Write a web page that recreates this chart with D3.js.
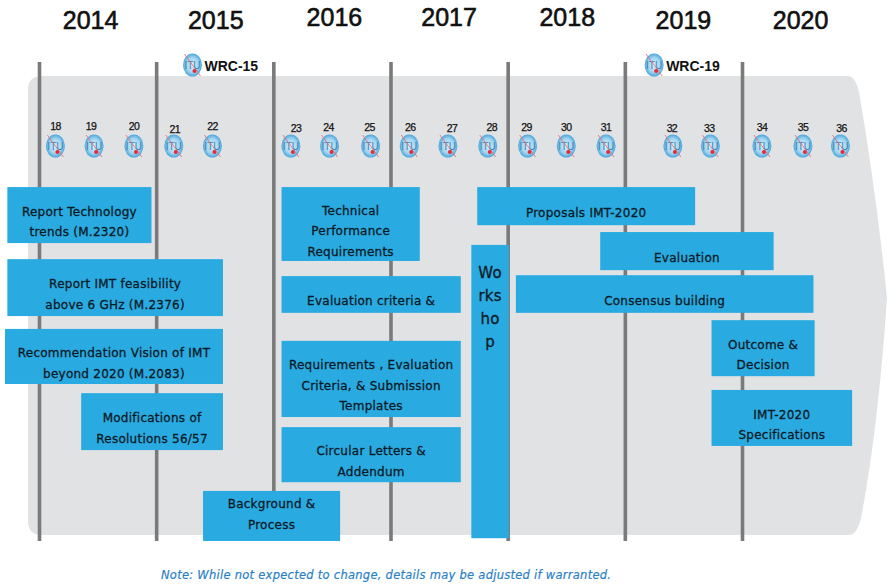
<!DOCTYPE html>
<html>
<head>
<meta charset="utf-8">
<script src="https://cdn.jsdelivr.net/npm/d3@7"></script>
<style>
  html, body { margin: 0; padding: 0; background: #fff; }
  svg { display: block; }
  .year { font: 25px "Liberation Sans", sans-serif; fill: #111; stroke: #111; stroke-width: 0.6px; }
  .wrc { font: bold 14px "Liberation Sans", sans-serif; fill: #111; }
  .meeting { font: 10.5px "Liberation Sans", sans-serif; fill: #111; stroke: #111; stroke-width: 0.25px; letter-spacing: -0.6px; }
  .box-text { font: 12px "DejaVu Sans", sans-serif; fill: #0c1a26; stroke: #0c1a26; stroke-width: 0.3px; letter-spacing: 0.25px; text-anchor: middle; }
  .note { font: italic 11.5px "DejaVu Sans", sans-serif; fill: #2b7fc6; stroke: #2b7fc6; stroke-width: 0.2px; }
</style>
</head>
<body>
<script>
const years = [2014, 2015, 2016, 2017, 2018, 2019, 2020];

const meetingNumbers = [18, 19, 20, 21, 22, 23, 24, 25, 26, 27, 28, 29, 30, 31, 32, 33, 34, 35, 36];
const meetingDates = [2014.14, 2014.47, 2014.81, 2015.15, 2015.48, 2016.15, 2016.48, 2016.83, 2017.16,
  2017.49, 2017.83, 2018.17, 2018.5, 2018.84, 2019.41, 2019.73, 2020.17, 2020.52, 2020.84];

const wrcLabels = ['WRC-15', 'WRC-19'];
const wrcDates = [2015.31, 2019.25];

const boxLabels = [
  ['Report Technology', 'trends (M.2320)'],
  ['Report  IMT feasibility', 'above 6 GHz (M.2376)'],
  ['Recommendation Vision of IMT', 'beyond 2020 (M.2083)'],
  ['Modifications of', 'Resolutions 56/57'],
  ['Technical', 'Performance', 'Requirements'],
  ['Evaluation criteria &'],
  ['Requirements , Evaluation', 'Criteria, & Submission', 'Templates'],
  ['Circular Letters &', 'Addendum'],
  ['Background &', 'Process'],
  ['Proposals IMT-2020'],
  ['Evaluation'],
  ['Consensus building'],
  ['Outcome &', 'Decision'],
  ['IMT-2020', 'Specifications'],
  ['Wo', 'rks', 'ho', 'p']
];
// start and end in calendar years
const boxStart = [2013.73, 2013.73, 2013.71, 2014.36, 2016.07, 2016.07, 2016.07, 2016.07, 2015.4,
  2017.74, 2018.79, 2018.07, 2019.74, 2019.74, 2017.69];
const boxEnd = [2014.96, 2015.57, 2015.57, 2015.57, 2017.25, 2017.6, 2017.6, 2017.6, 2016.57,
  2019.6, 2020.27, 2020.61, 2020.62, 2020.94, 2018.01];
// top and bottom as percent of the panel height
const boxTop = [24.2, 39.9, 55.1, 69.1, 24.2, 43.6, 57.7, 76.5, 90.4, 24.2, 34, 43.4, 53.2, 68.4, 36.8];
const boxBottom = [36.4, 52.3, 67.1, 81.5, 40.3, 51.6, 74.3, 88.5, 101.3, 32.5, 42.3, 51.6, 65.4, 80.6, 100.7];

const noteText = 'Note: While not expected to change, details may be adjusted if warranted.';

const width = 887;
const height = 584;

const x = d3.scaleLinear().domain([2014, 2020]).range([39, 742]);
const y = d3.scaleLinear().domain([0, 100]).range([76, 535]);

const svg = d3.select('body').append('svg').attr('width', width).attr('height', height);

const defs = svg.append('defs');
const globe = defs.append('radialGradient').attr('id', 'globe');
globe.append('stop').attr('offset', '0%').attr('stop-color', '#dff1fa');
globe.append('stop').attr('offset', '65%').attr('stop-color', '#9fd3ef');
globe.append('stop').attr('offset', '100%').attr('stop-color', '#4aa6dc');

// grey arrow shaped panel behind everything
const panel = d3.path();
panel.moveTo(42, y(0));
panel.lineTo(848, y(0));
panel.quadraticCurveTo(855, y(0), 859, 92);
panel.quadraticCurveTo(876, 190, 887, 298);
panel.quadraticCurveTo(878, 430, 861, 518);
panel.quadraticCurveTo(857, y(100), 849, y(100));
panel.lineTo(42, y(100));
panel.quadraticCurveTo(28, y(100), 28, 521);
panel.lineTo(28, 90);
panel.quadraticCurveTo(28, y(0), 42, y(0));
panel.closePath();
svg.append('path').attr('d', panel.toString()).attr('fill', '#e1e2e4');

// dividers between years
const dividers = svg.append('g')
  .attr('transform', 'translate(0,62)')
  .call(d3.axisBottom(x).tickValues(years).tickSize(479).tickFormat(''));
dividers.select('.domain').remove();
dividers.selectAll('.tick line').attr('stroke', '#7a7a7a').attr('stroke-width', 3.6);

const yearNudge = { 2014: [-7, 29], 2015: [1, 29], 2016: [2.5, 26], 2017: [0, 26], 2018: [1, 26], 2019: [0, 29], 2020: [0, 29] };
svg.selectAll('.year')
  .data(years)
  .join('text')
  .attr('class', 'year')
  .attr('text-anchor', 'middle')
  .attr('x', d => x(d + 0.5) + yearNudge[d][0])
  .attr('y', d => yearNudge[d][1])
  .text(d => d);

const drawItu = (g, cx, cy) => {
  const icon = g.append('g').attr('transform', `translate(${cx},${cy})`);
  icon.append('ellipse').attr('rx', 9.5).attr('ry', 11.5).attr('fill', 'url(#globe)');
  icon.append('text')
    .attr('text-anchor', 'middle')
    .attr('y', 3.5)
    .attr('font-family', 'Liberation Sans, sans-serif')
    .attr('font-size', 10)
    .attr('fill', '#3d7fae')
    .text('ITU');
  icon.append('line')
    .attr('x1', -8).attr('y1', -11).attr('x2', 8).attr('y2', 11)
    .attr('stroke', '#e87078').attr('stroke-width', 0.9);
  icon.append('circle').attr('cx', 2).attr('cy', 6).attr('r', 2).attr('fill', '#e22c3a');
};

const labelNudge = { 19: [-3, 0], 21: [1, 3], 23: [5, 2], 24: [-1, 1], 25: [-1, 1], 26: [1, 1], 27: [4, 2], 28: [4, 1], 29: [-1, 1],
  30: [0, 1], 31: [0, 1], 32: [-1, 2], 33: [-1, 2], 34: [0, 1], 35: [0, 1], 36: [1, 2] };
meetingNumbers.forEach((n, i) => {
  const mx = x(meetingDates[i]);
  const nudge = labelNudge[n] || [0, 0];
  svg.append('text')
    .attr('class', 'meeting')
    .attr('text-anchor', 'middle')
    .attr('x', mx + nudge[0])
    .attr('y', 130 + nudge[1])
    .text(n);
  drawItu(svg, mx, 146);
});

wrcLabels.forEach((label, i) => {
  const wx = x(wrcDates[i]);
  drawItu(svg, wx, 65);
  svg.append('text')
    .attr('class', 'wrc')
    .attr('x', wx + 12)
    .attr('y', 71)
    .text(label);
});

const boxes = svg.append('g');
boxLabels.forEach((lines, i) => {
  const bx0 = x(boxStart[i]);
  const bx1 = x(boxEnd[i]);
  const by0 = y(boxTop[i]);
  const by1 = y(boxBottom[i]);
  boxes.append('rect')
    .attr('x', bx0).attr('y', by0)
    .attr('width', bx1 - bx0).attr('height', by1 - by0)
    .attr('fill', '#29abe2');

  const isWorkshop = lines[0] === 'Wo';
  const lineGap = isWorkshop ? 23 : 20.5;
  let firstLine = (by0 + by1) / 2 + 6 - (lines.length - 1) * lineGap / 2;
  if (isWorkshop) firstLine = 273;
  if (lines[0] === 'Background &') firstLine = 503;
  const text = boxes.append('text')
    .attr('class', 'box-text')
    .style('font-size', isWorkshop ? '15px' : null);
  lines.forEach((line, j) => {
    text.append('tspan')
      .attr('x', (bx0 + bx1) / 2)
      .attr('y', firstLine + j * lineGap + 5)
      .text(line);
  });
});

svg.append('text')
  .attr('class', 'note')
  .attr('x', 161)
  .attr('y', 579)
  .attr('textLength', 450)
  .text(noteText);
</script>
</body>
</html>
